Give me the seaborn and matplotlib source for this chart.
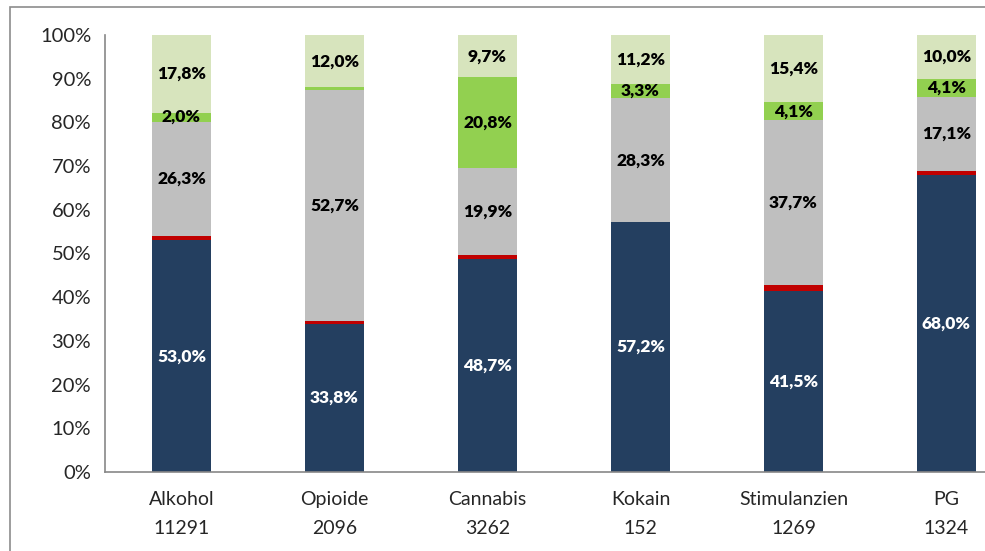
import numpy as np
import pandas as pd
import matplotlib
matplotlib.use("Agg")
import matplotlib.pyplot as plt
import seaborn as sns
from matplotlib.patches import Rectangle
from matplotlib.ticker import FixedLocator, PercentFormatter

# data (percent per category, bottom -> top)
categories = ["Alkohol", "Opioide", "Cannabis", "Kokain", "Stimulanzien", "PG"]
counts = ["11291", "2096", "3262", "152", "1269", "1324"]
navy = [53.0, 33.8, 48.7, 57.2, 41.5, 68.0]
red = [0.9, 0.8, 0.9, 0.0, 1.3, 0.8]
gray = [26.3, 52.7, 19.9, 28.3, 37.7, 17.1]
green = [2.0, 0.7, 20.8, 3.3, 4.1, 4.1]
light = [17.8, 12.0, 9.7, 11.2, 15.4, 10.0]

series = [navy, red, gray, green, light]
colors = ["#243F60", "#C00000", "#BFBFBF", "#92D050", "#D7E4BD"]
show_label = [True, False, True, True, True]
label_min = 1.5

sns.set_style("white")
plt.rcParams["font.family"] = ["Lato", "DejaVu Sans"]

fig = plt.figure(figsize=(9.85, 5.51), dpi=100)
# outer chart border
fig.patches.append(Rectangle((10 / 985, -0.1), 1.2, 1 - 7 / 551 + 0.1,
                             transform=fig.transFigure, fill=False,
                             edgecolor="#8C8C8C", linewidth=1.2))
ax = fig.add_axes([105 / 985, 79 / 551, 918 / 985, 437 / 551])

tops = np.cumsum(np.array(series), axis=0)
df = pd.DataFrame({"cat": categories})
# draw cumulative heights from top layer down so each layer covers the one above
for i in range(len(series) - 1, -1, -1):
    df["h"] = tops[i] / 100
    sns.barplot(data=df, x="cat", y="h", color=colors[i], width=0.39,
                saturation=1, ax=ax, linewidth=0)

for i, vals in enumerate(series):
    if not show_label[i]:
        continue
    for j, v in enumerate(vals):
        if v < label_min:
            continue
        mid = (tops[i][j] - v / 2) / 100
        ax.text(j, mid, f"{v:.1f}%".replace(".", ","), ha="center", va="center",
                fontsize=12.5, fontweight="heavy",
                color="white" if i == 0 else "black")

ax.set_xlim(-0.5, 5.5)
ax.set_ylim(0, 1)
ax.yaxis.set_major_locator(FixedLocator(np.arange(0, 1.01, 0.1)))
ax.yaxis.set_major_formatter(PercentFormatter(1.0, decimals=0))
ax.set_xticks(range(len(categories)))
ax.set_xticklabels([f"{c}\n{n}" for c, n in zip(categories, counts)],
                   linespacing=1.85)
ax.xaxis.set_minor_locator(FixedLocator(np.arange(-0.5, 6, 1)))
ax.tick_params(axis="x", which="major", length=0, pad=14, labelsize=14)
ax.tick_params(axis="x", which="minor", length=6, color="#878787", width=1.2)
ax.tick_params(axis="y", length=6, color="#878787", width=1.2, labelsize=14.5, pad=4)
ax.set_xlabel("")
ax.set_ylabel("")
for s in ["top", "right"]:
    ax.spines[s].set_visible(False)
for s in ["left", "bottom"]:
    ax.spines[s].set_color("#878787")
    ax.spines[s].set_linewidth(1.2)

fig.savefig("out.png", dpi=100)
